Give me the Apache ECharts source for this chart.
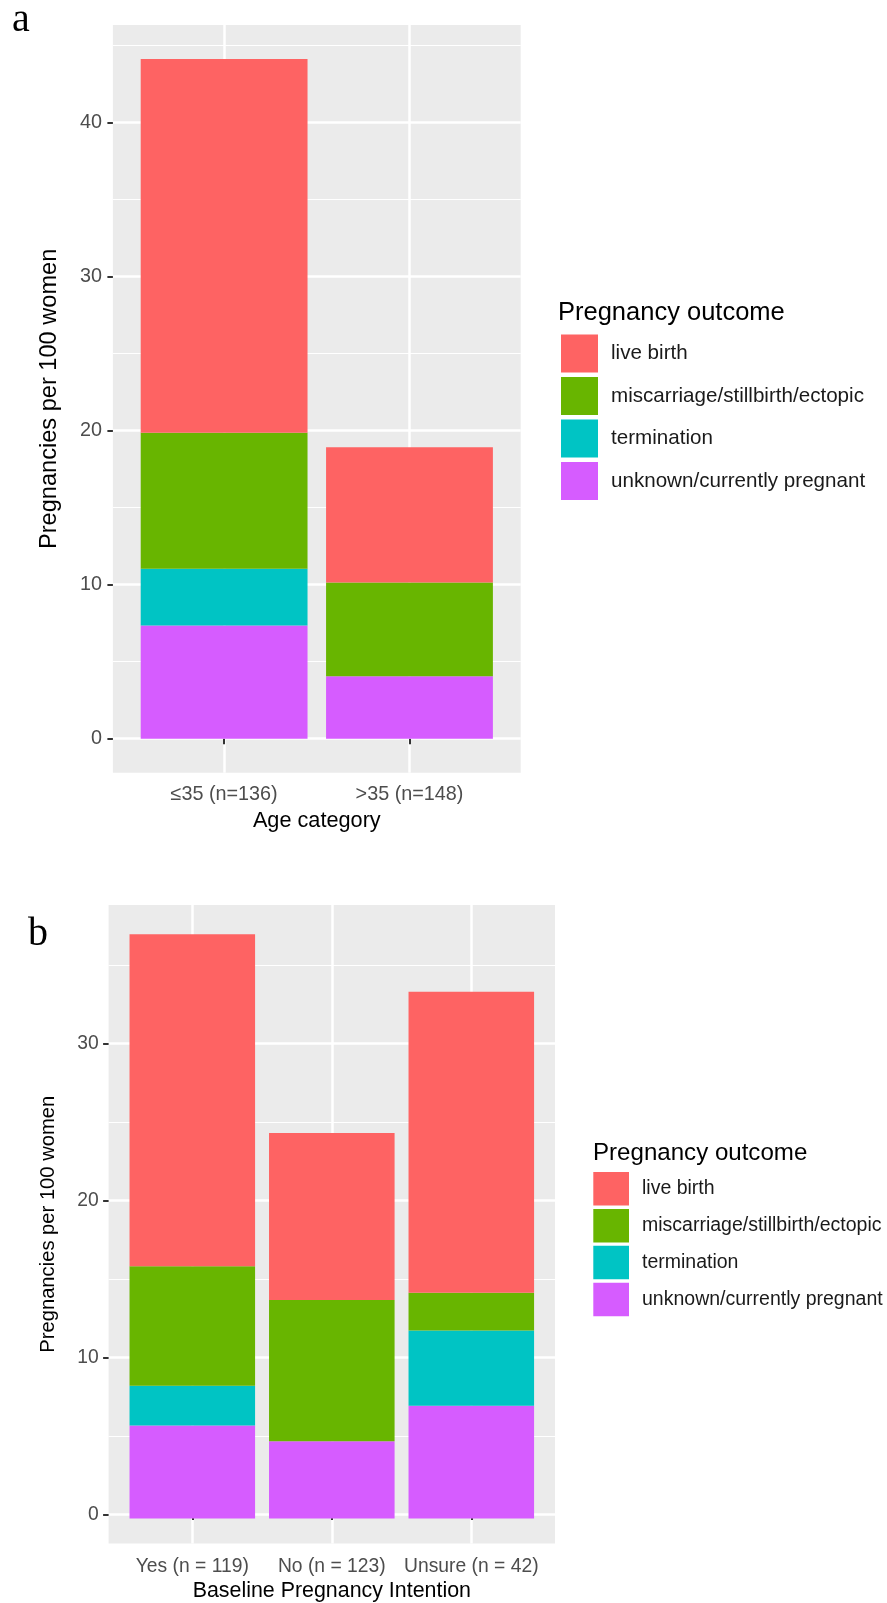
<!DOCTYPE html>
<html><head><meta charset="utf-8">
<script src="https://cdn.jsdelivr.net/npm/echarts@6/dist/echarts.min.js"></script>
<style>html,body{margin:0;padding:0;background:#fff}#c{width:887px;height:1603px}</style>
</head><body><div id="c"></div>
<script>
// ---- data ----
const outcomes = ['live birth', 'miscarriage/stillbirth/ectopic', 'termination', 'unknown/currently pregnant'];
const outcomeColors = ['#FE6363', '#68B500', '#00C4C4', '#D65CFF'];

const ageCategories = ['≤35 (n=136)', '>35 (n=148)'];
const ageLive    = [24.26, 8.78];
const ageMisc    = [8.82, 6.08];
const ageTerm    = [3.68, 0];
const ageUnknown = [7.35, 4.05];
const ageTicks = [0, 10, 20, 30, 40];
const ageMinor = [5, 15, 25, 35, 45];

const intentCategories = ['Yes (n = 119)', 'No (n = 123)', 'Unsure (n = 42)'];
const intentLive    = [21.01, 10.57, 19.05];
const intentMisc    = [7.56, 8.94, 2.38];
const intentTerm    = [2.52, 0, 4.76];
const intentUnknown = [5.88, 4.88, 7.14];
const intentTicks = [0, 10, 20, 30];
const intentMinor = [5, 15, 25, 35];

// ---- layout ----
const FONT = 'Liberation Sans, Arial, sans-serif';
const panels = [
  { left: 112.9, top: 25, width: 407.8, height: 747.7, cats: ageCategories,
    vals: [ageLive, ageMisc, ageTerm, ageUnknown], ticks: ageTicks, minor: ageMinor,
    xName: 'Age category', tickFont: 19.8, xTitleFont: 21.7, yTitleFont: 23.6, labelMargin: 11, xLabelMargin: 12, nameGapX: 37.5, nameGapY: 51,
    tag: 'a', tagLeft: 12, tagTop: 0,
    legend: { left: 561, top: 334.5, iw: 37, ih: 38, gap: 4.5, font: 20.6, textLeft: 611, titleLeft: 558, titleTop: 299.5, titleFont: 25.5 } },
  { left: 108.6, top: 905, width: 446.4, height: 642.7, cats: intentCategories,
    vals: [intentLive, intentMisc, intentTerm, intentUnknown], ticks: intentTicks, minor: intentMinor,
    xName: 'Baseline Pregnancy Intention', tickFont: 19.3, xTitleFont: 21.4, yTitleFont: 20.2, labelMargin: 10, xLabelMargin: 13.5, nameGapX: 37.5, nameGapY: 50,
    tag: 'b', tagLeft: 28, tagTop: 914.5,
    legend: { left: 593.3, top: 1172, iw: 35.7, ih: 33.5, gap: 3.4, font: 19.5, textLeft: 642, titleLeft: 593, titleTop: 1141, titleFont: 24.1 } }
];

const option = { animation: false, backgroundColor: '#fff', textStyle: { fontFamily: FONT },
  grid: [], xAxis: [], yAxis: [], series: [], legend: [], title: [] };

panels.forEach((p, i) => {
  const n = p.cats.length;
  const unit = p.width / (n - 1 + 1.2);
  const totals = p.cats.map((c, j) => p.vals.reduce((s, v) => s + v[j], 0));
  const maxT = Math.max(...totals);
  const yMin = -0.05 * maxT, yMax = 1.05 * maxT;

  const gPanel = option.grid.length;
  option.grid.push({ left: p.left, top: p.top, width: p.width, height: p.height, show: true,
    backgroundColor: '#EBEBEB', borderWidth: 0, containLabel: false });
  const gBars = option.grid.length;
  option.grid.push({ left: p.left + 0.1 * unit, top: p.top, width: n * unit, height: p.height, containLabel: false });

  const catIdx = p.cats.map((c, j) => j + 1);
  option.xAxis.push({ type: 'value', gridIndex: gPanel, min: 0.4, max: n + 0.6,
    axisLine: { show: false },
    axisTick: { show: true, length: 5.5, lineStyle: { color: '#333', width: 2 }, customValues: catIdx },
    axisLabel: { customValues: catIdx, margin: p.xLabelMargin, color: '#4D4D4D', fontSize: p.tickFont, fontFamily: FONT,
      formatter: v => p.cats[Math.round(v) - 1] },
    splitLine: { show: true, lineStyle: { color: '#fff', width: 2.5 } },
    name: p.xName, nameLocation: 'middle', nameGap: p.nameGapX,
    nameTextStyle: { color: '#000', fontSize: p.xTitleFont, fontFamily: FONT } });
  option.xAxis.push({ type: 'category', gridIndex: gBars, data: p.cats, show: false });

  option.yAxis.push({ type: 'value', gridIndex: gPanel, min: yMin, max: yMax,
    axisLine: { show: false },
    axisTick: { show: true, length: 5.5, lineStyle: { color: '#333', width: 2 }, customValues: p.ticks },
    axisLabel: { customValues: p.ticks, margin: p.labelMargin, color: '#4D4D4D', fontSize: p.tickFont, fontFamily: FONT },
    splitLine: { show: true, lineStyle: { color: '#fff', width: 2.5 } },
    name: 'Pregnancies per 100 women', nameLocation: 'middle', nameGap: p.nameGapY,
    nameTextStyle: { color: '#000', fontSize: p.yTitleFont, fontFamily: FONT } });
  option.yAxis.push({ type: 'value', gridIndex: gPanel, min: yMin, max: yMax,
    axisLine: { show: false }, axisTick: { show: false, customValues: p.minor },
    axisLabel: { show: false, customValues: p.minor },
    splitLine: { show: true, lineStyle: { color: '#fff', width: 1.2 } } });
  const yBars = option.yAxis.length;
  option.yAxis.push({ type: 'value', gridIndex: gBars, min: yMin, max: yMax, show: false, splitLine: { show: false } });

  // stack from bottom: unknown, termination, miscarriage, live birth
  [3, 2, 1, 0].forEach(k => {
    option.series.push({ type: 'bar', name: outcomes[k], xAxisIndex: option.xAxis.length - 1, yAxisIndex: yBars,
      stack: 'panel' + i, barWidth: '90%', data: p.vals[k],
      itemStyle: { color: outcomeColors[k] }, emphasis: { disabled: true } });
  });

  const L = p.legend;
  option.legend.push({ orient: 'vertical', left: L.left, top: L.top, padding: 0,
    itemWidth: L.iw, itemHeight: L.ih, itemGap: L.gap, icon: 'rect', selectedMode: false,
    data: outcomes, itemStyle: { borderWidth: 0 },
    textStyle: { fontSize: L.font, color: '#1a1a1a', fontFamily: FONT,
      padding: [5, 0, 0, L.textLeft - L.left - L.iw - 5] } });
  option.title.push({ text: 'Pregnancy outcome', left: L.titleLeft, top: L.titleTop, padding: 0,
    textStyle: { fontSize: L.titleFont, fontWeight: 'normal', color: '#000', fontFamily: FONT } });
  option.title.push({ text: p.tag, left: p.tagLeft, top: p.tagTop, padding: 0,
    textStyle: { fontSize: 40, fontWeight: 'normal', color: '#000', fontFamily: 'Liberation Serif, Times New Roman, serif' } });
});

const chart = echarts.init(document.getElementById('c'), null, { renderer: 'canvas' });
chart.setOption(option);
</script></body></html>
